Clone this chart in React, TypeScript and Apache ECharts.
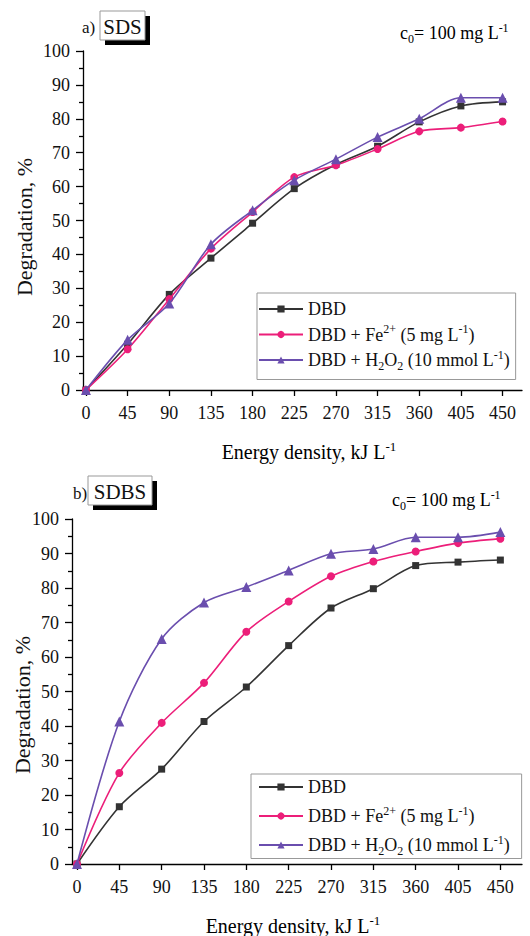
import React, { useEffect, useRef } from 'react';
import * as echarts from 'echarts';

const energy = [0, 45, 90, 135, 180, 225, 270, 315, 360, 405, 450];
const xTickValues = [0, 45, 90, 135, 180, 225, 270, 315, 360, 405, 450];

// a) SDS
const sdsDBD = [0, 13.5, 28.2, 38.9, 49.2, 59.4, 66.5, 71.9, 79.1, 83.8, 85.0];
const sdsFe = [0, 12.0, 26.8, 41.7, 52.5, 62.8, 66.3, 71.1, 76.3, 77.4, 79.2];
const sdsH2O2 = [0, 14.8, 25.5, 43.0, 53.0, 61.9, 68.1, 74.6, 80.0, 86.2, 86.2];

// b) SDBS
const sdbsDBD = [0, 16.6, 27.5, 41.3, 51.3, 63.3, 74.2, 79.8, 86.5, 87.5, 88.1];
const sdbsFe = [0, 26.4, 40.9, 52.5, 67.3, 76.1, 83.4, 87.7, 90.6, 93.0, 94.3];
const sdbsH2O2 = [0, 41.3, 65.2, 75.8, 80.3, 85.1, 89.9, 91.3, 94.7, 94.7, 96.2];

const seriesNames = ['DBD', 'DBD + Fe2+ (5 mg L-1)', 'DBD + H2O2 (10 mmol L-1)'];
const legendLabels: Record<string, string> = {
  'DBD': '{n|DBD}',
  'DBD + Fe2+ (5 mg L-1)': '{n|DBD + Fe}{sup|2+}{n| (5 mg L}{sup|-1}{n|)}',
  'DBD + H2O2 (10 mmol L-1)': '{n|DBD + H}{sub|2}{n|O}{sub|2}{n| (10 mmol L}{sup|-1}{n|)}',
};

const FONT = '"Liberation Serif", "Times New Roman", serif';
const colors = ['#333333', '#ec1e79', '#6a4eae'];
const symbols = ['rect', 'circle', 'triangle'];
const symbolSizes = [7, 8, 10];

const rich = (size: number) => ({
  n: { fontFamily: FONT, fontSize: size, lineHeight: size + 5, color: '#111', verticalAlign: 'middle' },
  sup: { fontFamily: FONT, fontSize: Math.round(size * 0.65), lineHeight: Math.round(size * 0.65), color: '#111', verticalAlign: 'top' },
  sub: { fontFamily: FONT, fontSize: Math.round(size * 0.65), lineHeight: Math.round(size * 0.65), color: '#111', verticalAlign: 'bottom' },
});

function makeAxes(gridIndex: number, xMin: number, xMax: number) {
  const xAxis = {
    type: 'value',
    gridIndex,
    position: 'bottom',
    min: xMin,
    max: xMax,
    splitLine: { show: false },
    axisLine: { onZero: false, lineStyle: { color: '#000', width: 1.3 } },
    axisTick: { show: true, customValues: xTickValues, length: 6, lineStyle: { color: '#000', width: 1.3 } },
    axisLabel: { customValues: xTickValues, margin: 14, fontFamily: FONT, fontSize: 18, color: '#111' },
  };
  const yAxis = {
    type: 'value',
    gridIndex,
    position: 'left',
    min: 0,
    max: 100,
    interval: 10,
    splitLine: { show: false },
    axisLine: { show: true, onZero: false, lineStyle: { color: '#000', width: 1.3 } },
    axisTick: { show: true, length: 7, lineStyle: { color: '#000', width: 1.3 } },
    minorTick: { show: true, splitNumber: 2, length: 4, lineStyle: { color: '#000', width: 1.3 } },
    axisLabel: { margin: 13, fontFamily: FONT, fontSize: 18, color: '#111' },
  };
  return { xAxis, yAxis };
}

function makeSeries(axisIndex: number, datasets: number[][]) {
  return datasets.map((vals, i) => ({
    type: 'line',
    name: seriesNames[i],
    xAxisIndex: axisIndex,
    yAxisIndex: axisIndex,
    smooth: 0.3,
    symbol: symbols[i],
    symbolSize: symbolSizes[i],
    showSymbol: true,
    clip: false,
    data: energy.map((e, k) => [e, vals[k]]),
    lineStyle: { color: colors[i], width: 1.6 },
    itemStyle: { color: colors[i] },
    z: 3 + i,
  }));
}

function headerGraphics(
  letter: string, lx: number, ly: number,
  label: string, bx: number, by: number, bw: number, bh: number,
  cx: number, cy: number,
) {
  return [
    { type: 'rect', shape: { x: bx + 5, y: by + 5, width: bw, height: bh }, style: { fill: '#000' }, z: 10 },
    { type: 'rect', shape: { x: bx, y: by, width: bw, height: bh }, style: { fill: '#fff', stroke: '#999', lineWidth: 1 }, z: 11 },
    { type: 'text', x: bx + bw / 2, y: by + bh / 2 + 1, z: 12, style: { text: label, fontFamily: FONT, fontSize: 21, fill: '#111', align: 'center', verticalAlign: 'middle' } },
    { type: 'text', x: lx, y: ly, z: 12, style: { text: letter, fontFamily: FONT, fontSize: 17, fill: '#111', align: 'left', verticalAlign: 'middle' } },
    { type: 'text', x: cx, y: cy, z: 12, style: { text: '{n|c}{sub|0}{n|= 100 mg L}{sup|-1}', rich: rich(18), align: 'left', verticalAlign: 'middle' } },
  ];
}

function nameGraphics(xName: [number, number], yName: [number, number]) {
  return [
    { type: 'text', x: xName[0], y: xName[1], z: 12, style: { text: '{n|Energy density, kJ L}{sup|-1}', rich: rich(20), align: 'center', verticalAlign: 'middle' } },
    { type: 'text', x: yName[0], y: yName[1], rotation: Math.PI / 2, z: 12, style: { text: 'Degradation, %', fontFamily: FONT, fontSize: 22, fill: '#111', align: 'center', verticalAlign: 'middle' } },
  ];
}

export default function App() {
  const ref = useRef<HTMLDivElement>(null);
  useEffect(() => {
    if (!ref.current) return;
    const chart = echarts.init(ref.current, null, { renderer: 'svg' });
    const top = makeAxes(0, -3.2, 471);
    const bot = makeAxes(1, -5.3, 473);
    const legendBase = {
      orient: 'vertical',
      itemWidth: 44,
      itemHeight: 9,
      backgroundColor: '#fff',
      borderColor: '#999',
      borderWidth: 1,
      borderRadius: 0,
      selectedMode: false,
      formatter: (name: string) => legendLabels[name],
      textStyle: { fontFamily: FONT, fontSize: 18, color: '#111', rich: rich(18) },
      data: seriesNames,
    };
    chart.setOption({
      animation: false,
      backgroundColor: '#fff',
      grid: [
        { left: 83, top: 51, right: 8, height: 339 },
        { left: 72, top: 519, right: 8, height: 345 },
      ],
      xAxis: [top.xAxis, bot.xAxis],
      yAxis: [top.yAxis, bot.yAxis],
      legend: [
        { ...legendBase, left: 257, top: 293, itemGap: 5, padding: [7, 6, 8, 1] },
        { ...legendBase, left: 251, top: 774, itemGap: 8.5, padding: [4, 12, 2, 7] },
      ],
      series: [
        ...makeSeries(0, [sdsDBD, sdsFe, sdsH2O2]),
        ...makeSeries(1, [sdbsDBD, sdbsFe, sdbsH2O2]),
      ],
      graphic: [
        ...headerGraphics('a)', 82, 27, 'SDS', 100, 11, 45, 29, 400, 33),
        ...headerGraphics('b)', 73, 493, 'SDBS', 88, 476, 64, 29, 392, 500),
        ...nameGraphics([309, 452], [24, 227]),
        ...nameGraphics([293, 926], [22, 705]),
      ],
    });
    return () => chart.dispose();
  }, []);
  return <div ref={ref} style={{ position: 'absolute', left: 0, top: 0, width: 530, height: 936 }} />;
}
